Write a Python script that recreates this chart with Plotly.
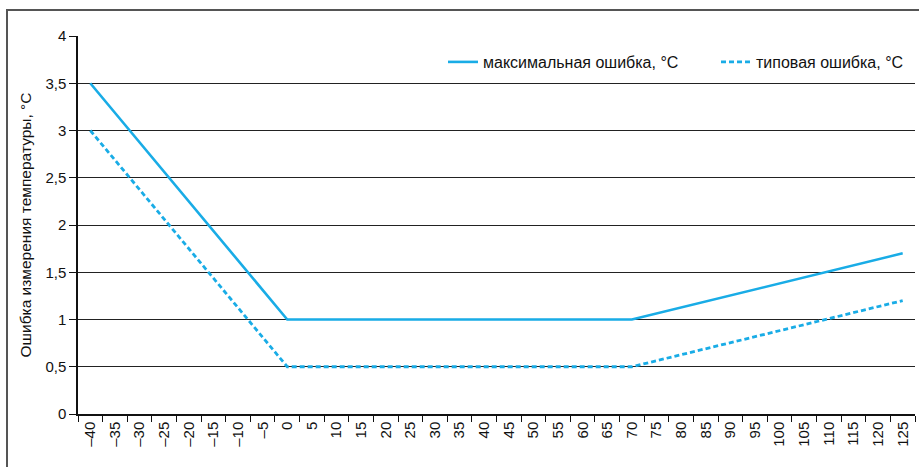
import plotly.graph_objects as go

# Temperature categories (°C) shown on the horizontal axis
temps = list(range(-40, 130, 5))
temp_labels = [("\u2013" + str(-t)) if t < 0 else str(t) for t in temps]

# Break points of the error curves
pts_temp = [-40, 0, 70, 125]
max_error = [3.5, 1.0, 1.0, 1.7]
typ_error = [3.0, 0.5, 0.5, 1.2]

y_ticks = [0, 0.5, 1, 1.5, 2, 2.5, 3, 3.5, 4]

def lab(t):
    return temp_labels[temps.index(t)]

color = "#19ace6"
font = "Liberation Sans, Arial, sans-serif"

W, H = 919, 467
L, R, T, B = 78, 4, 36, 53
pw, ph = W - L - R, H - T - B

def px_x(p):
    return (p - L) / pw

def px_y(p):
    return (H - B - p) / ph

fig = go.Figure()
fig.add_trace(go.Scatter(
    x=[lab(t) for t in pts_temp], y=max_error, mode="lines",
    name="максимальная ошибка, °C", legend="legend",
    line=dict(color=color, width=2.6),
))
fig.add_trace(go.Scatter(
    x=[lab(t) for t in pts_temp], y=typ_error, mode="lines",
    name="типовая ошибка, °C", legend="legend2",
    line=dict(color=color, width=2.8, dash="5px,3px"),
))

legend_style = dict(
    orientation="h", xanchor="left", y=px_y(62), yanchor="middle",
    bgcolor="rgba(255,255,255,0)", font=dict(size=16, color="#111"),
    itemwidth=30,
)

fig.update_layout(
    width=W, height=H,
    margin=dict(l=L, r=R, t=T, b=B),
    paper_bgcolor="white", plot_bgcolor="white",
    separators=", ",
    font=dict(family=font, size=15, color="#111"),
    showlegend=True,
    legend=dict(x=px_x(443), **legend_style),
    legend2=dict(x=px_x(716), **legend_style),
    xaxis=dict(
        type="category", categoryorder="array", categoryarray=temp_labels,
        tickmode="array", tickvals=temp_labels, ticktext=temp_labels,
        tickson="boundaries", ticks="outside", ticklen=6, tickcolor="#111",
        tickangle=-90, showgrid=False, showline=True, linecolor="#111",
        linewidth=1.5, range=[-0.5, len(temps) - 0.5], zeroline=False,
        tickfont=dict(size=15),
    ),
    yaxis=dict(
        range=[0, 4], tickmode="array", tickvals=y_ticks,
        ticktext=[("%g" % v).replace(".", ",") for v in y_ticks],
        ticks="outside", ticklen=7, tickcolor="#111",
        showgrid=True, gridcolor="#222", gridwidth=1.3,
        showline=True, linecolor="#111", linewidth=1.5, zeroline=False,
        tickfont=dict(size=15),
        title=dict(text="Ошибка измерения температуры, °C",
                   font=dict(size=15.5), standoff=10),
    ),
    shapes=[dict(
        type="rect", xref="paper", yref="paper",
        x0=px_x(7), x1=px_x(940), y0=px_y(490), y1=px_y(10),
        line=dict(color="#555", width=2), fillcolor="rgba(0,0,0,0)",
        layer="below",
    )],
)

fig.write_html("out.html")
